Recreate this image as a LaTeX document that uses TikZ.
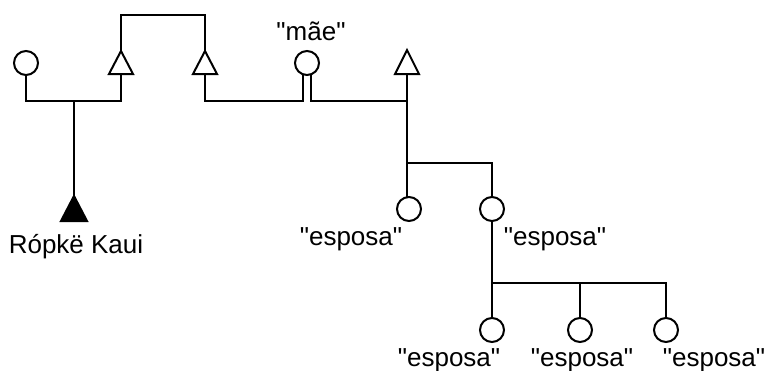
\documentclass[tikz,border=0pt]{standalone}
\usepackage{fontspec}
\setmainfont{Liberation Sans}[Ligatures=TeXOff]
\begin{document}
\begin{tikzpicture}[x=1pt,y=-1pt,
  ln/.style={line width=2pt},
  circ/.style={draw,circle,line width=2pt,minimum size=24pt,inner sep=0pt,outer sep=0pt},
  tri/.style={draw,line width=2pt,line join=miter},
  lbl/.style={anchor=base,inner sep=0pt,font=\fontsize{26}{30}\selectfont}]
\useasboundingbox (0,0) rectangle (767,370);
% persons
\node[circ] (c1) at (26,63) {};
\node[circ] (mae) at (307,63) {};
\node[circ] (e1) at (409,209) {};
\node[circ] (e2) at (492,209) {};
\node[circ] (b1) at (492,330) {};
\node[circ] (b2) at (580,330) {};
\node[circ] (b3) at (666,330) {};
% triangles (apex and base centre)
\coordinate (t1) at (121,51); \coordinate (t1b) at (121,74);
\coordinate (t2) at (205,51); \coordinate (t2b) at (205,74);
\coordinate (t3) at (407,50); \coordinate (t3b) at (407,74);
\coordinate (ego) at (74,196); \coordinate (egob) at (74,221);
\draw[tri,fill=white] (t1) -- ++(12,23) -- ++(-24,0) -- cycle;
\draw[tri,fill=white] (t2) -- ++(12,23) -- ++(-24,0) -- cycle;
\draw[tri,fill=white] (t3) -- ++(12,24) -- ++(-24,0) -- cycle;
\draw[tri,fill=black] (ego) -- ++(13,25) -- ++(-26,0) -- cycle;
% junction coordinates
\coordinate (j1) at (74,101);
\coordinate (j2) at (407,163);
\coordinate (j3) at (492,283);
% connectors
\draw[ln] (c1.south) -- (c1.south |- j1) -- (t1b |- j1) -- (t1b);
\draw[ln] (j1) -- (ego);
\draw[ln] (t1) -- ++(0,-36) -| (t2);
\draw[ln] (t2b) -- (t2b |- j1) -- ([xshift=-4pt]mae.south |- j1) -- ([xshift=-4pt]mae.south);
\draw[ln] ([xshift=4pt]mae.south) -- ([xshift=4pt]mae.south |- j1) -- (t3b |- j1);
\draw[ln] (t3b) -- (t3b |- e1.north);
\draw[ln] (j2) -| (e2.north);
\draw[ln] (e2.south) -- (j3) -| (b3.north);
\draw[ln] (b2.north) -- (b2.north |- j3);
\draw[ln] (j3) -- (b1.north);
% labels
\node[lbl] (lmae) at (311,40) {"mãe"};
\node[lbl] (lego) at (76,253) {Rópkë Kaui};
\node[lbl] (le1) at (351,245) {"esposa"};
\node[lbl] (le2) at (555,245) {"esposa"};
\node[lbl] (lb1) at (449,366) {"esposa"};
\node[lbl] (lb2) at (582,366) {"esposa"};
\node[lbl] (lb3) at (714,366) {"esposa"};
\end{tikzpicture}
\end{document}
